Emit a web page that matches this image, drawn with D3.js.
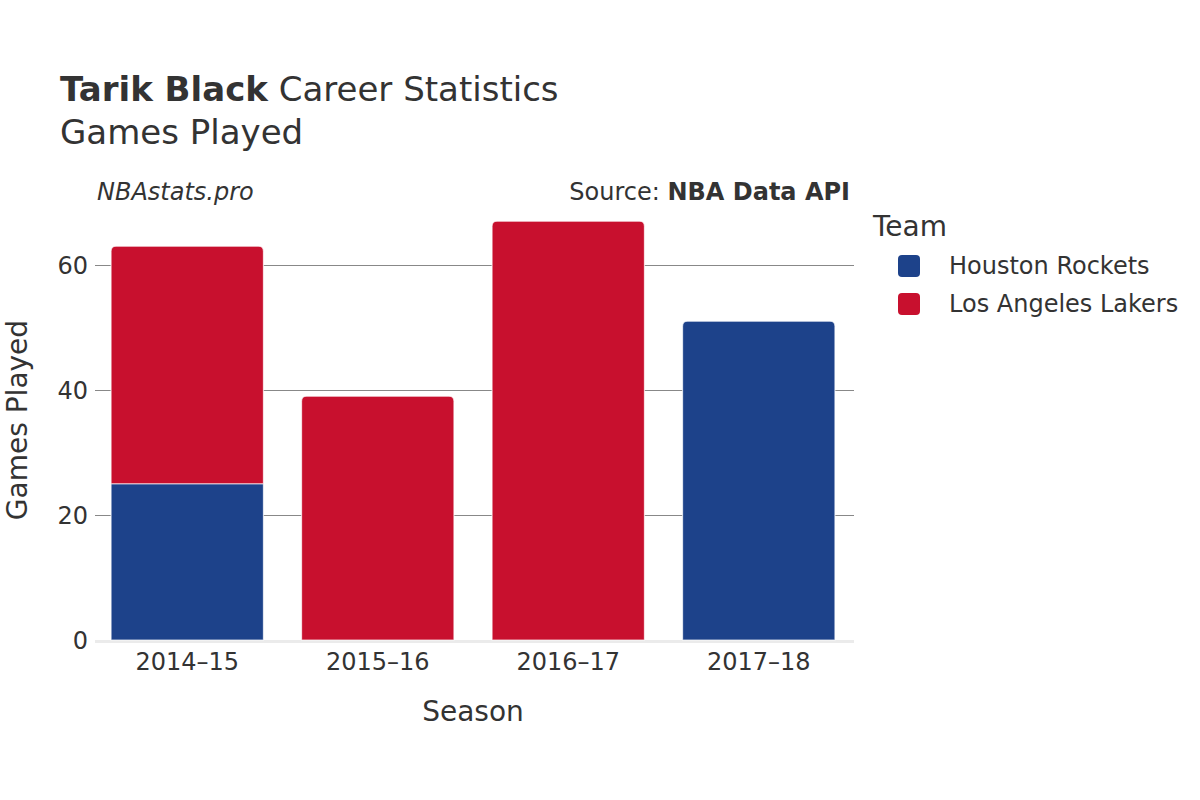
<!DOCTYPE html>
<html><head><meta charset="utf-8">
<script src="https://cdn.jsdelivr.net/npm/d3@7"></script>
<style>body{margin:0;background:#fff}svg{display:block}text{font-family:"DejaVu Sans",sans-serif;fill:#333}</style>
</head><body>
<script>
const seasons = ["2014–15","2015–16","2016–17","2017–18"];
const teams = ["Houston Rockets","Los Angeles Lakers"];
const teamColors = ["#1d428a","#c8102e"];
const houstonGames = [25,0,0,51];
const lakersGames = [38,39,67,0];
const yTicks = [0,20,40,60];

const W=1200,H=800;
const svg=d3.select("body").append("svg").attr("width",W).attr("height",H);
const m={l:92,r:854,t:180,b:640};
const x=d3.scaleBand().domain(seasons).range([m.l,m.r]).paddingInner(0.2).paddingOuter(0.1);
const y=d3.scaleLinear().domain([0,70.5]).range([m.b,m.b-70.5*6.25]);

// gridlines
const ga=svg.append("g").attr("transform",`translate(${m.l+3},0)`)
  .call(d3.axisLeft(y).tickValues(yTicks).tickSize(-(m.r-m.l-3)).tickFormat(""));
ga.select(".domain").remove();
ga.selectAll(".tick line").attr("stroke","#888").attr("stroke-width",1);
ga.selectAll(".tick").filter(d=>d===0).remove();
// zero line
svg.append("line").attr("x1",m.l+3).attr("x2",m.r).attr("y1",y(0)+1.5).attr("y2",y(0)+1.5).attr("stroke","#ebebeb").attr("stroke-width",3);

// y labels
const yl=svg.append("g").attr("transform",`translate(${m.l-4},0)`).call(d3.axisLeft(y).tickValues(yTicks).tickSize(0).tickPadding(0));
yl.select(".domain").remove();
yl.selectAll("text").attr("font-size",24).attr("fill","#333").attr("font-family","DejaVu Sans").attr("dy","0.35em");

// bars
const stack=d3.stack().keys([0,1]).value((d,k)=>k===0?houstonGames[d]:lakersGames[d])(seasons.map((s,i)=>i));
function barPath(x0,w,y0,y1,r){
  r=Math.min(r,(y0-y1)/2);
  return `M${x0},${y0}V${y1+r}Q${x0},${y1} ${x0+r},${y1}H${x0+w-r}Q${x0+w},${y1} ${x0+w},${y1+r}V${y0}Z`;
}
stack.forEach((layer,k)=>{
  layer.forEach((d,i)=>{
    if(d[1]-d[0]<=0) return;
    const isTop = (k===1) || lakersGames[i]===0;
    const x0=x(seasons[i]), w=x.bandwidth();
    const y0=y(d[0]), y1=y(d[1]);
    svg.append("path")
      .attr("d", isTop?barPath(x0,w,y0,y1,5):`M${x0},${y0}V${y1}H${x0+w}V${y0}Z`)
      .attr("fill",teamColors[k]).attr("stroke","#fff").attr("stroke-opacity",0.7).attr("stroke-width",1.2);
  });
});

// x labels
const xa=svg.append("g").attr("transform",`translate(0,${m.b+4})`).call(d3.axisBottom(x).tickSize(0).tickPadding(9));
xa.select(".domain").remove();
xa.selectAll("text").attr("font-size",24).attr("fill","#333").attr("font-family","DejaVu Sans");

// axis titles
svg.append("text").attr("x",473).attr("y",721).attr("text-anchor","middle").attr("font-size",28).text("Season");
svg.append("text").attr("transform","translate(27,420) rotate(-90)").attr("text-anchor","middle").attr("font-size",28).text("Games Played");

// title
const t=svg.append("text").attr("x",60).attr("y",101).attr("font-size",34);
t.append("tspan").attr("font-weight","bold").text("Tarik Black");
t.append("tspan").text(" Career Statistics");
svg.append("text").attr("x",60).attr("y",144).attr("font-size",34).text("Games Played");
svg.append("text").attr("x",97).attr("y",200).attr("font-size",24).attr("font-style","italic").text("NBAstats.pro");
const s=svg.append("text").attr("x",850).attr("y",200).attr("font-size",24).attr("text-anchor","end");
s.append("tspan").text("Source: ");
s.append("tspan").attr("font-weight","bold").text("NBA Data API");

// legend
svg.append("text").attr("x",873).attr("y",236).attr("font-size",28).text("Team");
teams.forEach((tm,i)=>{
  const g=svg.append("g").attr("transform",`translate(898,${255+i*38})`);
  g.append("rect").attr("width",22).attr("height",22).attr("rx",4).attr("fill",teamColors[i]);
  g.append("text").attr("x",51).attr("y",11).attr("dy","0.35em").attr("font-size",24).text(tm);
});
</script>
</body></html>
